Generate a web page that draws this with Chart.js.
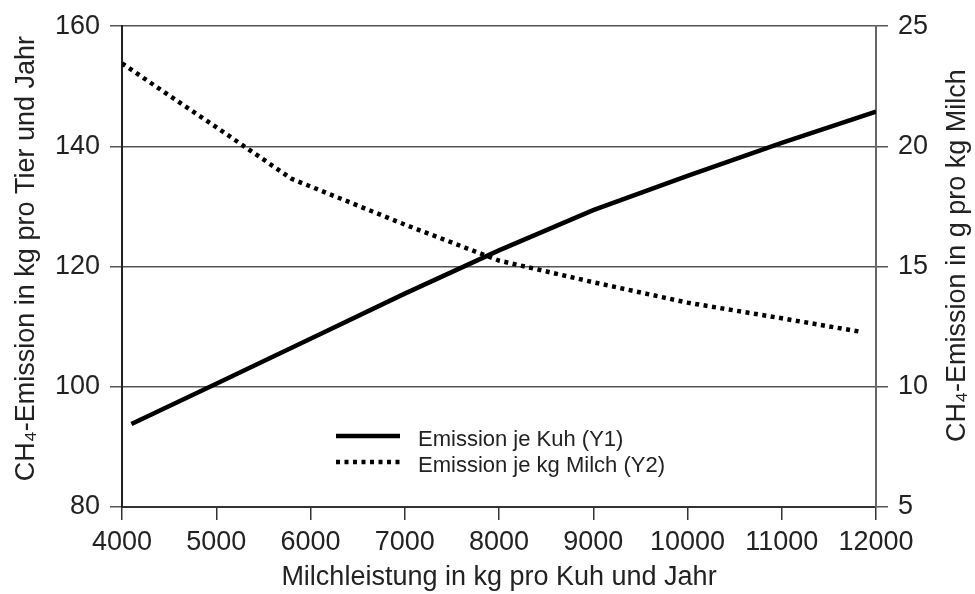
<!DOCTYPE html>
<html>
<head>
<meta charset="utf-8">
<script src="https://cdn.jsdelivr.net/npm/chart.js@4.4.1/dist/chart.umd.min.js"></script>
<style>
  body { margin: 0; background: #fff; }
  #wrap { width: 975px; height: 594px; position: relative; }
</style>
</head>
<body>
<div id="wrap"><canvas id="grafica"></canvas></div>
<script>
// Datos
const kuhX = [4100, 5000, 6000, 7000, 8000, 9000, 10000, 11000, 12000];
const kuhY = [93.8, 100.5, 108, 115.5, 122.7, 129.4, 135.1, 140.6, 145.8];

const milchX = [4000, 5000, 5800, 7000, 8000, 9000, 10000, 11000, 11850];
const milchY = [23.45, 20.8, 18.65, 16.75, 15.25, 14.35, 13.5, 12.85, 12.28];

const labels = ['Emission je Kuh (Y1)', 'Emission je kg Milch (Y2)'];

const xTicks = { min: 4000, max: 12000, step: 1000 };
const y1Ticks = { min: 80, max: 160, step: 20 };
const y2Ticks = { min: 5, max: 25, step: 5 };

const tituloX = 'Milchleistung in kg pro Kuh und Jahr';
const tituloY1 = 'CH₄-Emission in kg pro Tier und Jahr';
const tituloY2 = 'CH₄-Emission in g pro kg Milch';

const fuente = "'Liberation Sans', Arial, sans-serif";

// Leyenda dentro del area del grafico
const leyendaInterna = {
  id: 'leyendaInterna',
  afterDatasetsDraw(chart) {
    const ctx = chart.ctx;
    const x0 = 336, x1 = 400, xt = 418;
    const filas = [436, 462];
    chart.data.datasets.forEach((ds, i) => {
      const y = filas[i];
      ctx.save();
      ctx.strokeStyle = ds.borderColor;
      ctx.lineWidth = ds.borderWidth;
      ctx.lineCap = 'butt';
      ctx.setLineDash(ds.borderDash || []);
      ctx.beginPath();
      ctx.moveTo(x0, y);
      ctx.lineTo(x1, y);
      ctx.stroke();
      ctx.setLineDash([]);
      ctx.fillStyle = '#222';
      ctx.font = '22px ' + fuente;
      ctx.textBaseline = 'middle';
      ctx.fillText(ds.label, xt, y + 4);
      ctx.restore();
    });
  }
};

// Titulos de los ejes verticales, ambos leidos de abajo hacia arriba
function tituloVertical(ctx, texto, x, y) {
  ctx.save();
  ctx.translate(x, y);
  ctx.rotate(-Math.PI / 2);
  ctx.fillStyle = '#222';
  ctx.font = '27px ' + fuente;
  ctx.textAlign = 'center';
  ctx.textBaseline = 'middle';
  ctx.fillText(texto, 0, 0);
  ctx.restore();
}

const titulosEjes = {
  id: 'titulosEjes',
  afterDraw(chart) {
    const medio = (chart.chartArea.top + chart.chartArea.bottom) / 2;
    tituloVertical(chart.ctx, tituloY1, 27, medio - 8);
    tituloVertical(chart.ctx, tituloY2, 958, medio - 11);
  }
};

const ctx = document.getElementById('grafica').getContext('2d');

new Chart(ctx, {
  type: 'line',
  data: {
    datasets: [{
      label: labels[0],
      data: kuhX.map((x, i) => ({ x: x, y: kuhY[i] })),
      yAxisID: 'y',
      borderColor: '#000',
      borderWidth: 4.5,
      pointRadius: 0,
      fill: false,
      tension: 0
    }, {
      label: labels[1],
      data: milchX.map((x, i) => ({ x: x, y: milchY[i] })),
      yAxisID: 'y2',
      borderColor: '#000',
      borderWidth: 4.5,
      borderDash: [4, 4.5],
      borderCapStyle: 'butt',
      pointRadius: 0,
      fill: false,
      tension: 0
    }]
  },
  options: {
    responsive: true,
    maintainAspectRatio: false,
    animation: false,
    devicePixelRatio: 1,
    layout: { padding: { top: 21, left: 0, right: 0, bottom: 0 } },
    plugins: {
      legend: { display: false },
      tooltip: { enabled: false }
    },
    scales: {
      x: {
        type: 'linear',
        min: xTicks.min,
        max: xTicks.max,
        afterFit: s => { s.height = 87; },
        ticks: {
          stepSize: xTicks.step,
          callback: v => String(v),
          color: '#222',
          padding: 6,
          maxRotation: 0,
          font: { family: fuente, size: 27 }
        },
        grid: { drawOnChartArea: false, tickLength: 13, color: '#333', lineWidth: 1.5 },
        border: { color: '#333', width: 2 },
        title: {
          display: true,
          text: tituloX,
          color: '#222',
          padding: { top: 0, bottom: 0 },
          font: { family: fuente, size: 27 }
        }
      },
      y: {
        position: 'left',
        min: y1Ticks.min,
        max: y1Ticks.max,
        afterFit: s => { s.width = 122; },
        ticks: {
          stepSize: y1Ticks.step,
          color: '#222',
          padding: 10,
          font: { family: fuente, size: 27 }
        },
        grid: { tickLength: 12, color: '#555', lineWidth: 1.5 },
        border: { color: '#222', width: 2 },
        title: { display: false }
      },
      y2: {
        position: 'right',
        min: y2Ticks.min,
        max: y2Ticks.max,
        afterFit: s => { s.width = 99; },
        ticks: {
          stepSize: y2Ticks.step,
          color: '#222',
          padding: 10,
          font: { family: fuente, size: 27 }
        },
        grid: { drawOnChartArea: false, tickLength: 12, color: '#555', lineWidth: 1.5 },
        border: { color: '#666', width: 2 },
        title: { display: false }
      }
    }
  },
  plugins: [leyendaInterna, titulosEjes]
});
</script>
</body>
</html>
